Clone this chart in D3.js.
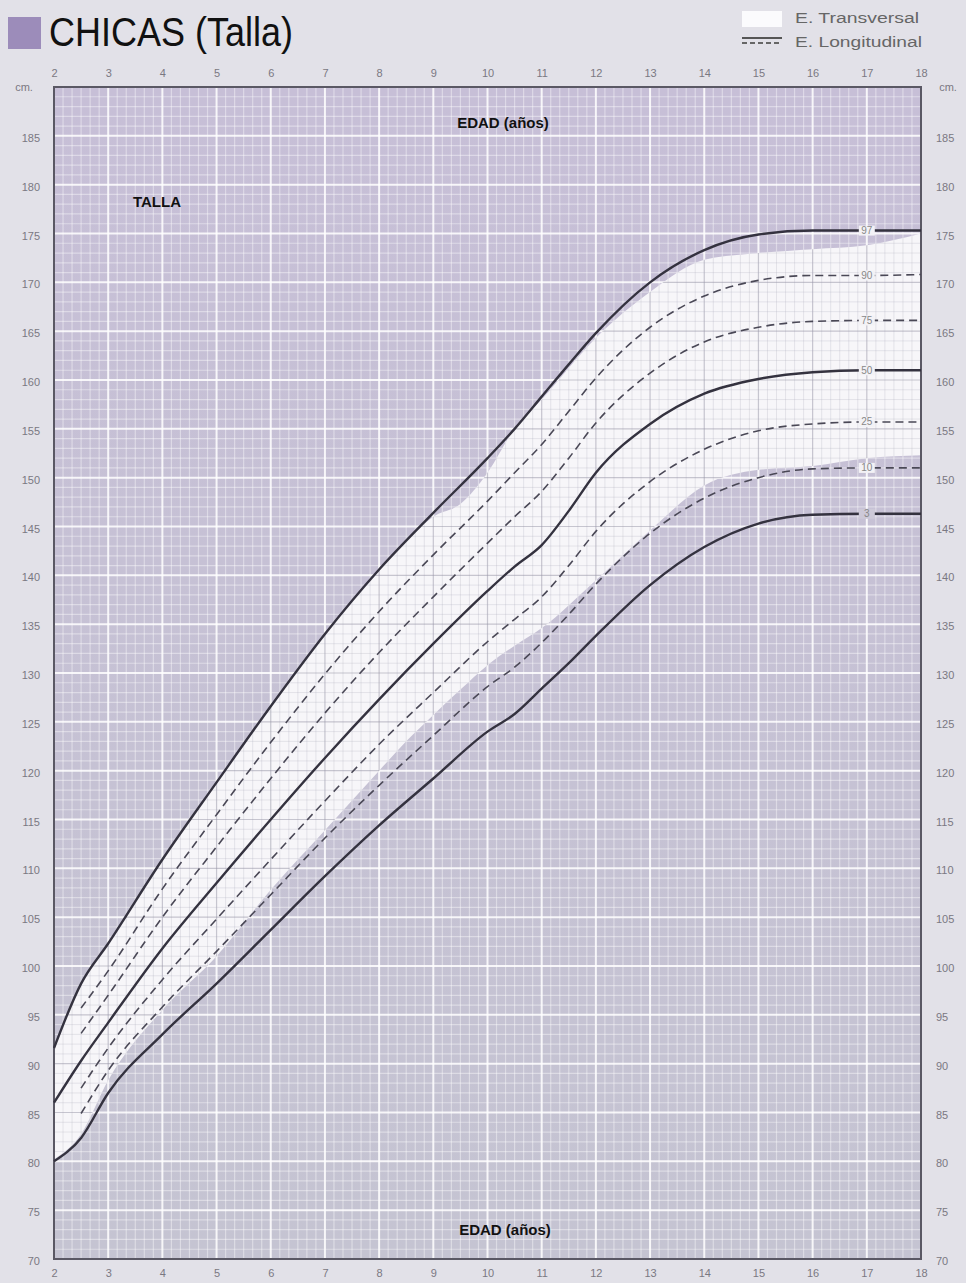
<!DOCTYPE html>
<html>
<head>
<meta charset="utf-8">
<script src="https://cdn.jsdelivr.net/npm/d3@7"></script>
<style>
  body { margin: 0; background: #e2e1e8; }
  svg { display: block; }
</style>
</head>
<body>
<svg id="chart"></svg>
<script>
// edades (años) donde se leen las curvas
var ages = [2, 2.5, 3, 4, 5, 6, 7, 8, 9, 10, 10.5, 11, 11.5, 12, 13, 14, 15, 16, 17, 18];
var p97 = [91.6, 98.2, 102.3, 110.9, 118.8, 126.6, 134, 140.6, 146.4, 152, 155, 158.3, 161.6, 164.8, 170, 173.3, 174.9, 175.3, 175.3, 175.3];
var p50 = [86, 90.3, 94.2, 101.8, 108.5, 115, 121.3, 127.3, 133, 138.4, 140.9, 143.1, 146.6, 150.5, 155.5, 158.6, 160.1, 160.8, 161, 161];
var p3  = [80, 82.4, 87, 93, 98.2, 103.7, 109.2, 114.4, 119.2, 124, 125.8, 128.4, 131, 133.8, 139, 142.9, 145.3, 146.2, 146.3, 146.3];

// curvas discontinuas (empiezan a los 2,5 años)
var dashAges = [2.5, 3, 4, 5, 6, 7, 8, 9, 10, 10.5, 11, 11.5, 12, 13, 14, 15, 16, 17, 18];
var p90 = [95.7, 99.5, 107.9, 115.5, 122.9, 129.9, 136.3, 142.1, 147.6, 150.5, 153.4, 156.8, 160.2, 165.4, 168.6, 170.2, 170.7, 170.7, 170.8];
var p75 = [93.1, 97, 105, 112.2, 119.2, 125.9, 132.1, 137.8, 143.3, 146, 148.6, 152, 155.6, 160.7, 163.9, 165.4, 166, 166.1, 166.1];
var p25 = [87.5, 91.6, 98.6, 104.8, 110.9, 116.9, 122.7, 128, 133.2, 135.5, 137.8, 141, 144.5, 149.6, 152.9, 154.8, 155.5, 155.7, 155.7];
var p10 = [84.9, 89.3, 95.8, 101.5, 107.3, 113.1, 118.5, 123.6, 128.6, 130.6, 133.1, 136, 139.1, 144.3, 147.9, 150, 150.9, 151, 151];

// zona blanca del estudio transversal
var bandAges = [2, 2.5, 3, 4, 5, 6, 7, 8, 8.5, 9, 9.5, 10, 10.5, 11, 12, 13, 14, 15, 16, 17, 18];
var bandTop = [91.6, 98.2, 102.3, 110.9, 118.8, 126.6, 134, 140.6, 143.5, 146, 147.3, 150.5, 155, 158, 164.3, 169, 172.3, 173, 173.4, 173.8, 175];
var bandBottom = [80.2, 82.8, 88.3, 95.5, 101, 107.8, 113.9, 120, 123, 125.7, 128.3, 130.8, 132.8, 134.6, 139.5, 144.6, 149.2, 150.8, 151.2, 152, 152.3];

var yearTicks = d3.range(2, 19);
var cmTicks = d3.range(70, 190, 5);

var width = 966, height = 1283;
var svg = d3.select('#chart').attr('width', width).attr('height', height);

var x = d3.scaleLinear().domain([2, 18]).range([54, 921]);
var y = d3.scaleLinear().domain([70, 190]).range([1259, 87]);

var defs = svg.append('defs');
var grad = defs.append('linearGradient').attr('id', 'bg').attr('x1', 0).attr('x2', 0).attr('y1', 0).attr('y2', 1);
grad.append('stop').attr('offset', '0%').attr('stop-color', '#c7bfd7');
grad.append('stop').attr('offset', '100%').attr('stop-color', '#c5c4d2');

// title
svg.append('rect').attr('x', 8).attr('y', 17).attr('width', 33).attr('height', 32).attr('fill', '#9c8cba');
svg.append('text').attr('x', 49).attr('y', 46)
  .attr('font-family', '"Liberation Sans", Arial')
  .attr('font-size', 40).attr('fill', '#111')
  .attr('textLength', 244).attr('lengthAdjust', 'spacingAndGlyphs')
  .text('CHICAS (Talla)');

// legend
svg.append('rect').attr('x', 742).attr('y', 11).attr('width', 40).attr('height', 16).attr('fill', '#fbfbfd');
svg.append('line').attr('x1', 742).attr('x2', 782).attr('y1', 38).attr('y2', 38).attr('stroke', '#555').attr('stroke-width', 2);
svg.append('line').attr('x1', 742).attr('x2', 782).attr('y1', 43).attr('y2', 43).attr('stroke', '#666').attr('stroke-width', 2).attr('stroke-dasharray', '5,3');
svg.append('text').attr('x', 795).attr('y', 23).attr('font-family', 'Liberation Sans, Arial').attr('font-size', 14)
  .attr('fill', '#666').attr('textLength', 124).attr('lengthAdjust', 'spacingAndGlyphs').text('E. Transversal');
svg.append('text').attr('x', 795).attr('y', 47).attr('font-family', 'Liberation Sans, Arial').attr('font-size', 14)
  .attr('fill', '#666').attr('textLength', 127).attr('lengthAdjust', 'spacingAndGlyphs').text('E. Longitudinal');

var plot = svg.append('g');
var x0 = x(2), x1 = x(18), y0 = y(190), y1 = y(70);

plot.append('rect').attr('x', x0).attr('y', y0).attr('width', x1 - x0).attr('height', y1 - y0).attr('fill', 'url(#bg)');

var band = d3.area()
  .x(function (d) { return x(d[0]) })
  .y0(function (d) { return y(d[2]) })
  .y1(function (d) { return y(d[1]) })
  .curve(d3.curveMonotoneX);
var bandData = bandAges.map(function (a, i) { return [a, bandTop[i], bandBottom[i]] });

defs.append('clipPath').attr('id', 'bandClip')
  .append('path').attr('d', band(bandData));

function drawGrid(g, major, minor, majW, minW) {
  var minorX = d3.range(2, 18.001, 1 / 6);
  var minorY = d3.range(70, 190.001, 1);
  g.selectAll('.vx').data(minorX).enter().append('line')
    .attr('x1', function (d) { return x(d) }).attr('x2', function (d) { return x(d) })
    .attr('y1', y0).attr('y2', y1)
    .attr('stroke', function (d) { return Math.abs(d - Math.round(d)) < 0.01 ? major : minor })
    .attr('stroke-width', function (d) { return Math.abs(d - Math.round(d)) < 0.01 ? majW : minW });
  g.selectAll('.hy').data(minorY).enter().append('line')
    .attr('y1', function (d) { return y(d) }).attr('y2', function (d) { return y(d) })
    .attr('x1', x0).attr('x2', x1)
    .attr('stroke', function (d) { return Math.round(d) % 5 === 0 ? major : minor })
    .attr('stroke-width', function (d) { return Math.round(d) % 5 === 0 ? majW : minW });
}

// purple grid with white lines
drawGrid(plot.append('g'), 'rgba(255,255,255,0.85)', 'rgba(255,255,255,0.4)', 2, 1.2);

// white band with gray lines
var bandG = plot.append('g').attr('clip-path', 'url(#bandClip)');
bandG.append('rect').attr('x', x0).attr('y', y0).attr('width', x1 - x0).attr('height', y1 - y0).attr('fill', '#f7f6f9');
drawGrid(bandG.append('g'), 'rgba(150,148,165,0.5)', 'rgba(170,168,185,0.32)', 1.2, 0.8);

// frame
plot.append('rect').attr('x', x0).attr('y', y0).attr('width', x1 - x0).attr('height', y1 - y0)
  .attr('fill', 'none').attr('stroke', '#5a5864').attr('stroke-width', 2);

// curves
var line = d3.line()
  .x(function (d) { return x(d[0]) })
  .y(function (d) { return y(d[1]) })
  .curve(d3.curveMonotoneX);

var solid = [p97, p50, p3];
solid.forEach(function (s) {
  plot.append('path').datum(ages.map(function (a, i) { return [a, s[i]] }))
    .attr('d', line).attr('fill', 'none').attr('stroke', '#34323f').attr('stroke-width', 2.4);
});
var dashed = [p90, p75, p25, p10];
dashed.forEach(function (s) {
  plot.append('path').datum(dashAges.map(function (a, i) { return [a, s[i]] }))
    .attr('d', line).attr('fill', 'none').attr('stroke', '#4a4856').attr('stroke-width', 1.6)
    .attr('stroke-dasharray', '8,5');
});

// percentile labels at 17 years
var pLabels = [['97', p97[18]], ['90', p90[17]], ['75', p75[17]], ['50', p50[18]], ['25', p25[17]], ['10', p10[17]], ['3', p3[18]]];
pLabels.forEach(function (p) {
  plot.append('rect').attr('x', x(17) - 8).attr('y', y(p[1]) - 5).attr('width', 16).attr('height', 10)
    .attr('fill', p[0] === '3' ? '#cdc9d8' : '#f3f2f6');
  plot.append('text').attr('x', x(17)).attr('y', y(p[1]) + 3.5).attr('text-anchor', 'middle')
    .attr('font-family', 'Liberation Sans, Arial').attr('font-size', 10).attr('fill', '#888').text(p[0]);
});

// axes
function styleAxis(g) {
  g.select('.domain').remove();
  g.selectAll('text').attr('font-family', 'Liberation Sans, Arial').attr('font-size', 11).attr('fill', '#7a7882');
}
svg.append('g').attr('transform', 'translate(0,' + (y0 - 10) + ')')
  .call(d3.axisTop(x).tickValues(yearTicks).tickSize(0).tickPadding(0).tickFormat(d3.format('d'))).call(styleAxis);
svg.append('g').attr('transform', 'translate(0,' + (y1 + 6) + ')')
  .call(d3.axisBottom(x).tickValues(yearTicks).tickSize(0).tickPadding(4).tickFormat(d3.format('d'))).call(styleAxis);
svg.append('g').attr('transform', 'translate(40,2)')
  .call(d3.axisLeft(y).tickValues(cmTicks).tickSize(0).tickPadding(0).tickFormat(d3.format('d'))).call(styleAxis);
svg.append('g').attr('transform', 'translate(936,2)')
  .call(d3.axisRight(y).tickValues(cmTicks).tickSize(0).tickPadding(0).tickFormat(d3.format('d'))).call(styleAxis);
svg.append('text').attr('x', 24).attr('y', y0 + 4).attr('text-anchor', 'middle')
  .attr('font-family', 'Liberation Sans, Arial').attr('font-size', 11).attr('fill', '#7a7882').text('cm.');
svg.append('text').attr('x', 948).attr('y', y0 + 4).attr('text-anchor', 'middle')
  .attr('font-family', 'Liberation Sans, Arial').attr('font-size', 11).attr('fill', '#7a7882').text('cm.');

// bold labels
function bold(tx, ty, t) {
  svg.append('text').attr('x', tx).attr('y', ty).attr('text-anchor', 'middle')
    .attr('font-family', 'Liberation Sans, Arial').attr('font-weight', 'bold').attr('font-size', 15)
    .attr('fill', '#111').text(t);
}
bold(503, 128, 'EDAD (años)');
bold(505, 1235, 'EDAD (años)');
bold(157, 207, 'TALLA');
</script>
</body>
</html>
